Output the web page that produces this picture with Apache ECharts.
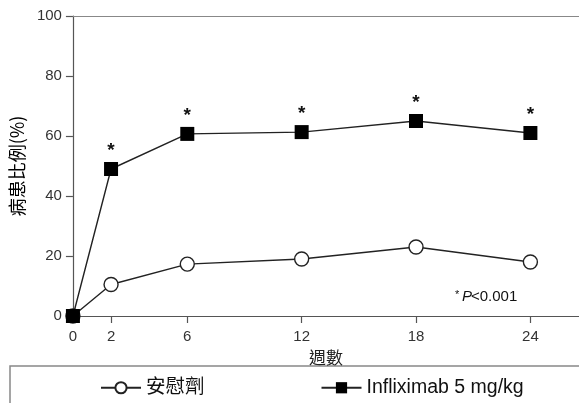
<!DOCTYPE html>
<html>
<head>
<meta charset="utf-8">
<script src="https://cdn.jsdelivr.net/npm/echarts@6/dist/echarts.min.js"></script>
<style>html,body{margin:0;padding:0;background:#fff;}#c{width:579px;height:403px;}</style>
</head>
<body>
<div id="c"></div>
<script>
const weeks = [0, 2, 6, 12, 18, 24];
const xTickLabels = [0, 2, 6, 12, 18, 24];
const placebo = [0, 10.5, 17.3, 19, 23, 18];
const infliximab = [0, 49, 60.7, 61.3, 65, 61];
const significant = ['', '*', '*', '*', '*', '*'];
const seriesNames = ['安慰劑', 'Infliximab 5 mg/kg'];

const chart = echarts.init(document.getElementById('c'));
const axisColor = '#555';
const font = 'Liberation Sans, Arial, sans-serif';
chart.setOption({
  animation: false,
  grid: { left: 72, right: -1, top: 16, bottom: 87 },
  legend: {
    left: 95, top: 373, itemGap: 116, itemWidth: 40, itemHeight: 14,
    textStyle: { fontSize: 19.5, color: '#111', fontFamily: 'Liberation Sans, Noto Sans CJK TC, sans-serif' },
    data: seriesNames
  },
  xAxis: [{
    type: 'value', min: 0, max: 26.55,
    name: '週數', nameLocation: 'middle', nameGap: 25,
    nameTextStyle: { fontSize: 17, color: '#222', fontFamily: 'Noto Sans CJK TC' },
    splitLine: { show: false },
    axisLine: { lineStyle: { color: axisColor, width: 1.2 } },
    axisTick: { show: true, length: 7, customValues: xTickLabels.slice(1), lineStyle: { color: axisColor, width: 1.2 } },
    axisLabel: { customValues: xTickLabels, fontSize: 15, color: '#333', margin: 13, fontFamily: font }
  }, {
    type: 'value', min: 0, max: 26.55, position: 'top',
    axisLine: { show: true, lineStyle: { color: '#888', width: 1.2 } },
    axisTick: { show: false }, axisLabel: { show: false }, splitLine: { show: false }
  }],
  yAxis: {
    type: 'value', min: 0, max: 100, interval: 20,
    name: '病患比例(%)', nameLocation: 'middle', nameGap: 45, nameRotate: 90,
    nameTextStyle: { fontSize: 18, color: '#000', fontFamily: 'Noto Sans CJK TC' },
    splitLine: { show: false },
    axisLine: { show: true, lineStyle: { color: axisColor, width: 1.2 } },
    axisTick: { show: true, length: 7, lineStyle: { color: axisColor, width: 1.2 } },
    axisLabel: { fontSize: 15, color: '#333', margin: 11, fontFamily: font }
  },
  series: [{
    name: seriesNames[0], type: 'line',
    data: weeks.map((w, i) => [w, placebo[i]]),
    symbol: 'circle', symbolSize: 14,
    lineStyle: { color: '#222', width: 1.4 },
    itemStyle: { color: '#fff', borderColor: '#222', borderWidth: 1.4 },
    z: 3
  }, {
    name: seriesNames[1], type: 'line',
    data: weeks.map((w, i) => [w, infliximab[i]]),
    symbol: 'rect', symbolSize: 14,
    lineStyle: { color: '#222', width: 1.4 },
    itemStyle: { color: '#000', borderColor: '#000', borderWidth: 0 },
    label: {
      show: true, position: 'top', distance: 2,
      formatter: p => significant[p.dataIndex],
      fontSize: 19, fontWeight: 'bold', color: '#111', fontFamily: font
    },
    z: 4
  }],
  graphic: [{
    type: 'text', left: 455, top: 289,
    style: { text: '* ', fontSize: 11, fill: '#111', fontFamily: font }
  }, {
    type: 'text', left: 462, top: 289,
    style: { text: 'P', fontSize: 15, fontStyle: 'italic', fill: '#111', fontFamily: font }
  }, {
    type: 'text', left: 471, top: 289,
    style: { text: '<0.001', fontSize: 15, fill: '#111', fontFamily: font }
  }, {
    type: 'rect', shape: { x: 10, y: 366, width: 620, height: 80 },
    style: { fill: 'none', stroke: '#888', lineWidth: 1.5 }
  }]
});
</script>
</body>
</html>
